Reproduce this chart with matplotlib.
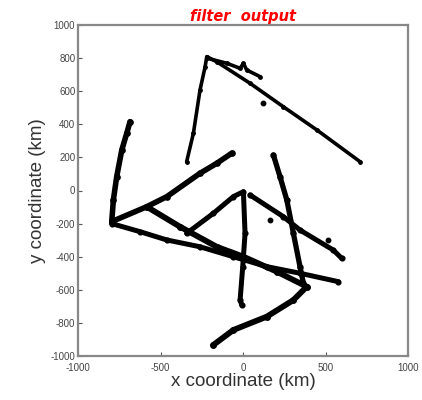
import matplotlib
matplotlib.use("Agg")
import matplotlib.pyplot as plt

# Track vertices (km)
track_a_x = [-796, -786, -766, -735, -705, -685]
track_a_y = [-188, -57, 83, 245, 346, 416]

track_b_x = [-796, -584, -462, -261, -160, -69]
track_b_y = [-188, -98, -37, 104, 164, 225]

track_c_x = [-796, -624, -462, -261, -59, 144, 345, 578]
track_c_y = [-200, -249, -299, -340, -400, -460, -500, -551]

track_d_x = [-584, -382, -160, 2, 204, 386, 305, 144, -59, -180]
track_d_y = [-98, -219, -340, -400, -490, -581, -662, -762, -843, -933]

track_e_x = [-342, -180, -59, 2, 12, -2, -18, -8]
track_e_y = [-259, -138, -37, -7, -259, -460, -661, -692]

track_h_x = [42, 244, 345, 547, 598]
track_h_y = [-27, -158, -239, -360, -410]

track_f_x = [184, 224, 265, 305, 345, 366]
track_f_y = [214, 83, -57, -259, -460, -561]

track_g_x = [-342, -301, -261, -230, -220, -160, 42, 244, 447, 709]
track_g_y = [174, 346, 607, 748, 809, 778, 648, 506, 366, 174]

track_k_x = [-220, -99, -18, 2, 22, 103]
track_k_y = [800, 769, 738, 769, 728, 688]

dots_x = [123, 164, 517]
dots_y = [527, -178, -299]

tracks = [(track_a_x, track_a_y), (track_b_x, track_b_y), (track_c_x, track_c_y),
          (track_d_x, track_d_y), (track_e_x, track_e_y), (track_h_x, track_h_y),
          (track_f_x, track_f_y), (track_g_x, track_g_y), (track_k_x, track_k_y)]
thick = [4.0, 4.0, 3.6, 4.2, 3.6, 3.6, 3.8, 2.6, 2.6]

ticks = [-1000, -800, -600, -400, -200, 0, 200, 400, 600, 800, 1000]
xticks = [-1000, -500, 0, 500, 1000]

plt.rcParams['font.family'] = ['Liberation Sans', 'DejaVu Sans']

fig = plt.figure(figsize=(4.22, 4.0), dpi=100)
ax = fig.add_axes([0.185, 0.11, 0.782, 0.8275])

for (tx, ty), lw in zip(tracks, thick):
    ax.plot(tx, ty, color='black', lw=lw, solid_capstyle='round',
            solid_joinstyle='round', marker='o', ms=lw * 0.95)
ax.plot(dots_x, dots_y, 'o', color='black', ms=3.2, lw=0)

ax.set_xlim(-1000, 1000)
ax.set_ylim(-1000, 1000)
ax.set_xticks(xticks)
ax.set_yticks(ticks)
ax.set_xticklabels([str(t) for t in xticks])
ax.set_yticklabels([str(t) for t in ticks])
ax.tick_params(direction='in', length=3, width=0.8, color='#555555',
               labelsize=7, labelcolor='#444444', pad=2)
ax.tick_params(axis='x', pad=5)
for s in ax.spines.values():
    s.set_color('#888888')
    s.set_linewidth(1.6)

ax.set_xlabel('x coordinate (km)', fontsize=13.5, color='#333333', labelpad=0)
ax.set_ylabel('y coordinate (km)', fontsize=13.5, color='#333333', labelpad=3)
ax.set_title('filter  output', color='red', fontsize=10.5, fontweight='bold',
             fontstyle='italic', pad=3, family=['DejaVu Sans'])

fig.savefig('out.png', dpi=100)
